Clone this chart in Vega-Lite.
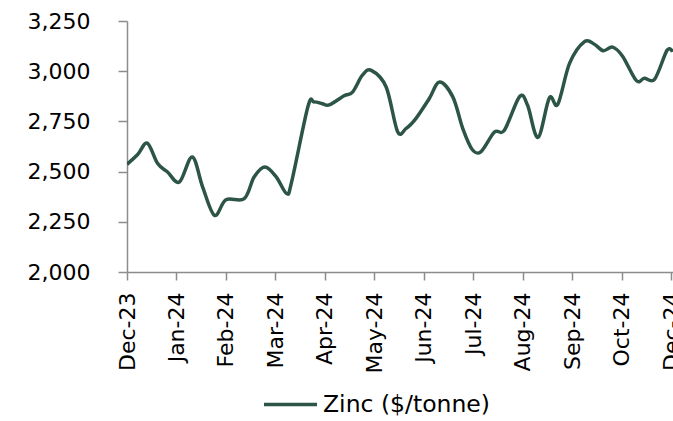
{
  "$schema": "https://vega.github.io/schema/vega-lite/v6.json",
  "autosize": {"type": "none"},
  "padding": {"left": 127, "top": 21, "right": 0, "bottom": 149},
  "width": 546,
  "height": 251,
  "background": "white",
  "config": {
    "view": {"stroke": null},
    "font": "DejaVu Sans"
  },
  "data": {
    "values": [
      {"m": 0.00, "price": 2536},
      {"m": 0.22, "price": 2586},
      {"m": 0.41, "price": 2642},
      {"m": 0.62, "price": 2540},
      {"m": 0.82, "price": 2498},
      {"m": 1.06, "price": 2448},
      {"m": 1.32, "price": 2573},
      {"m": 1.53, "price": 2423},
      {"m": 1.77, "price": 2282},
      {"m": 2.00, "price": 2360},
      {"m": 2.37, "price": 2365},
      {"m": 2.57, "price": 2473},
      {"m": 2.79, "price": 2523},
      {"m": 3.02, "price": 2473},
      {"m": 3.23, "price": 2390},
      {"m": 3.33, "price": 2450},
      {"m": 3.66, "price": 2825},
      {"m": 3.78, "price": 2847},
      {"m": 3.95, "price": 2838},
      {"m": 4.09, "price": 2832},
      {"m": 4.39, "price": 2878},
      {"m": 4.56, "price": 2896},
      {"m": 4.76, "price": 2980},
      {"m": 4.94, "price": 3004},
      {"m": 5.24, "price": 2921},
      {"m": 5.47, "price": 2700},
      {"m": 5.64, "price": 2714},
      {"m": 5.84, "price": 2764},
      {"m": 6.11, "price": 2863},
      {"m": 6.32, "price": 2946},
      {"m": 6.59, "price": 2871},
      {"m": 6.79, "price": 2714},
      {"m": 6.98, "price": 2610},
      {"m": 7.16, "price": 2600},
      {"m": 7.43, "price": 2697},
      {"m": 7.63, "price": 2706},
      {"m": 7.94, "price": 2874},
      {"m": 8.10, "price": 2830},
      {"m": 8.31, "price": 2670},
      {"m": 8.54, "price": 2867},
      {"m": 8.71, "price": 2835},
      {"m": 8.95, "price": 3040},
      {"m": 9.25, "price": 3147},
      {"m": 9.45, "price": 3134},
      {"m": 9.63, "price": 3102},
      {"m": 9.82, "price": 3120},
      {"m": 10.02, "price": 3075},
      {"m": 10.30, "price": 2953},
      {"m": 10.46, "price": 2965},
      {"m": 10.67, "price": 2961},
      {"m": 10.92, "price": 3104},
      {"m": 11.03, "price": 3096}
    ]
  },
  "mark": {"type": "line", "interpolate": "cardinal", "strokeWidth": 3.5, "clip": true},
  "encoding": {
    "x": {
      "field": "m",
      "type": "quantitative",
      "scale": {"domain": [0, 11.04], "nice": false, "zero": false},
      "axis": {
        "title": null,
        "values": [0, 1, 2, 3, 4, 5, 6, 7, 8, 9, 10, 11],
        "labelExpr": "['Dec-23','Jan-24','Feb-24','Mar-24','Apr-24','May-24','Jun-24','Jul-24','Aug-24','Sep-24','Oct-24','Dec-24'][datum.value]",
        "labelAngle": -90,
        "labelAlign": "right",
        "labelBaseline": "middle",
        "labelFontSize": 22,
        "labelColor": "#000000",
        "labelPadding": 12,
        "labelFlush": false,
        "labelOverlap": false,
        "grid": false,
        "domainColor": "#8c8c8c",
        "domainWidth": 1.5,
        "tickColor": "#8c8c8c",
        "tickWidth": 1.5,
        "tickSize": 8
      }
    },
    "y": {
      "field": "price",
      "type": "quantitative",
      "scale": {"domain": [2000, 3250], "nice": false, "zero": false},
      "axis": {
        "title": null,
        "values": [2000, 2250, 2500, 2750, 3000, 3250],
        "format": ",d",
        "labelFontSize": 22,
        "labelColor": "#000000",
        "labelPadding": 28,
        "grid": false,
        "domainColor": "#8c8c8c",
        "domainWidth": 1.5,
        "tickColor": "#8c8c8c",
        "tickWidth": 1.5,
        "tickSize": 9
      }
    },
    "color": {
      "datum": "Zinc ($/tonne)",
      "type": "nominal",
      "scale": {"range": ["#2d5546"]},
      "legend": {
        "title": null,
        "orient": "none",
        "legendX": 135,
        "legendY": 355,
        "padding": 0,
        "symbolType": "stroke",
        "symbolSize": 2809,
        "symbolStrokeWidth": 3.5,
        "labelFontSize": 23.5,
        "labelColor": "#000000",
        "labelOffset": 4,
        "labelLimit": 400
      }
    }
  }
}
